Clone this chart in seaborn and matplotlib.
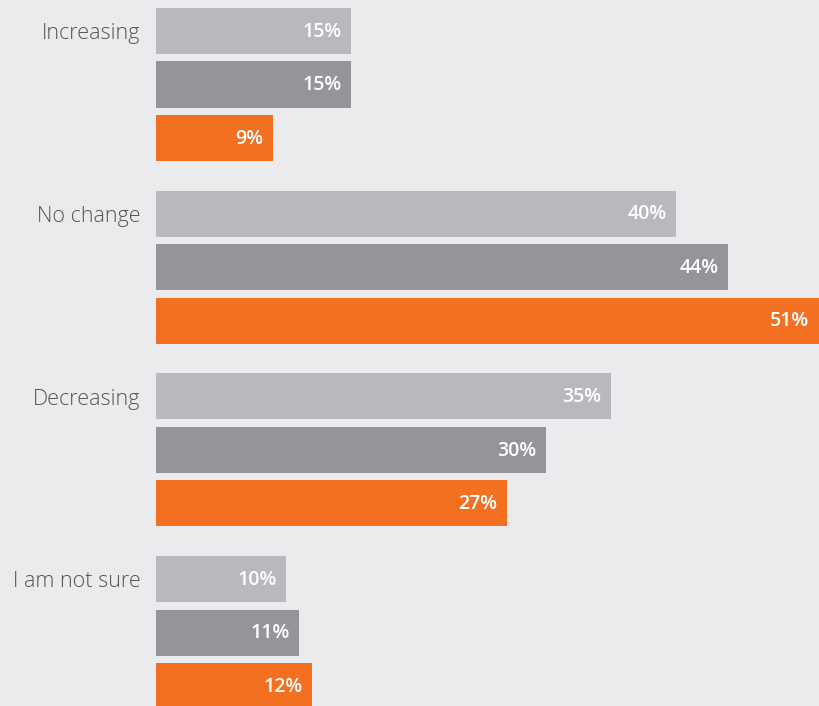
import matplotlib
matplotlib.use("Agg")
import matplotlib.pyplot as plt
import seaborn as sns
import pandas as pd

# Responses by category, three survey waves
categories = ["Increasing", "No change", "Decreasing", "I am not sure"]
series_names = ["Wave 1", "Wave 2", "Wave 3"]
wave1 = [15, 40, 35, 10]
wave2 = [15, 44, 30, 11]
wave3 = [9, 51, 27, 12]

colors = ["#b8b9bc", "#949598", "#f37021"]
bg = "#ebebed"

rows = []
for name, vals in zip(series_names, [wave1, wave2, wave3]):
    for cat, v in zip(categories, vals):
        rows.append({"category": cat, "wave": name, "value": v})
df = pd.DataFrame(rows)

sns.set_theme(style="white")
plt.rcParams["font.family"] = ["Open Sans", "DejaVu Sans"]

fig = plt.figure(figsize=(8.19, 7.06), dpi=100, facecolor=bg)
ax = fig.add_axes([156 / 819, 0, 663 / 819, 1])
ax.set_facecolor(bg)

sns.barplot(data=df, y="category", x="value", hue="wave", order=categories,
            hue_order=series_names, palette=colors, orient="h",
            width=0.879, gap=0.14, dodge=True, legend=False, ax=ax,
            saturation=1, linewidth=0, edgecolor="none")

ax.set_xlim(0, 51)
ax.set_ylim(3.402, -0.4626)

# Value labels inside the right end of each bar
for container in ax.containers:
    for bar in container:
        w = bar.get_width()
        yc = bar.get_y() + bar.get_height() / 2
        ax.annotate(f"{w:.0f}%", (w, yc), xytext=(-7, -0.5), textcoords="offset points",
                    ha="right", va="center", color="white", fontsize=14,
                    fontweight="semibold", clip_on=False)

# Category labels aligned to the first bar of each group
ax.set_yticks([])
ax.set_xticks([])
first = ax.containers[0]
for cat, bar in zip(categories, first):
    yc = bar.get_y() + bar.get_height() / 2
    ax.annotate(cat, (0, yc), xytext=(-11, -2), textcoords="offset points",
                ha="right", va="center", color="#555558", fontsize=15.5,
                fontweight="light", annotation_clip=False)

ax.set_xlabel("")
ax.set_ylabel("")
for s in ax.spines.values():
    s.set_visible(False)

fig.savefig("out.png", dpi=100, facecolor=bg)
